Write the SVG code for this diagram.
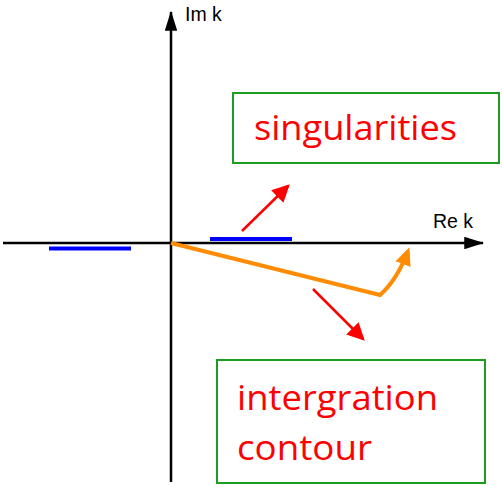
<svg xmlns="http://www.w3.org/2000/svg" width="502" height="485" viewBox="0 0 502 485">
<style>
.ax{stroke:#000;stroke-width:2.5;fill:none}
.lab{font-family:"Liberation Sans",Arial,sans-serif;font-size:19.5px;fill:#000}
.cut{stroke:#0000ff;stroke-width:4}
.red{stroke:#ff0000;stroke-width:2.5;fill:none}
.box{fill:#fff;stroke:#1e9b1e;stroke-width:2}
.big{font-family:"Open Sans","Liberation Sans",sans-serif;font-size:34px;fill:#ff0000}
</style>
<defs>
<marker id="blk" markerWidth="8" markerHeight="5" refX="7.5" refY="2.5" orient="auto" markerUnits="strokeWidth"><path d="M0,0 L8,2.5 L0,5 z" fill="#000"/></marker>
<marker id="rd" markerWidth="7" markerHeight="7" refX="6" refY="3.5" orient="auto" markerUnits="strokeWidth"><path d="M0,0 L7,3.5 L0,7 z" fill="#ff0000"/></marker>
<marker id="or" markerWidth="4.5" markerHeight="4" refX="3.5" refY="2" orient="auto" markerUnits="strokeWidth"><path d="M0,0 L4.5,2 L0,4 z" fill="#ff8c00"/></marker>
</defs>
<g id="axes">
<line class="ax" x1="171" y1="482" x2="171" y2="12" marker-end="url(#blk)"/>
<line class="ax" x1="3" y1="243" x2="483" y2="243" marker-end="url(#blk)"/>
<text class="lab" x="185" y="21">Im k</text>
<text class="lab" x="433" y="228">Re k</text>
</g>
<g id="cuts">
<line class="cut" x1="49" y1="248.5" x2="131" y2="248.5"/>
<line class="cut" x1="210" y1="239" x2="292" y2="239"/>
</g>
<g id="contour">
<path d="M171,243 L380,295 Q397,280 408,251" stroke="#ff8c00" stroke-width="4" fill="none" stroke-linejoin="miter" marker-end="url(#or)"/>
</g>
<g id="connectors">
<line class="red" x1="242" y1="231" x2="288" y2="186" marker-end="url(#rd)"/>
<line class="red" x1="313" y1="289" x2="363" y2="339" marker-end="url(#rd)"/>
</g>
<g id="singularities">
<rect class="box" x="233" y="93" width="266" height="70"/>
<text class="big" x="254" y="140" textLength="203" lengthAdjust="spacingAndGlyphs">singularities</text>
</g>
<g id="integration">
<rect class="box" x="217" y="360" width="268" height="123"/>
<text class="big" x="237" y="410" textLength="201" lengthAdjust="spacingAndGlyphs">intergration</text>
<text class="big" x="237" y="460" textLength="135" lengthAdjust="spacingAndGlyphs">contour</text>
</g>
</svg>
